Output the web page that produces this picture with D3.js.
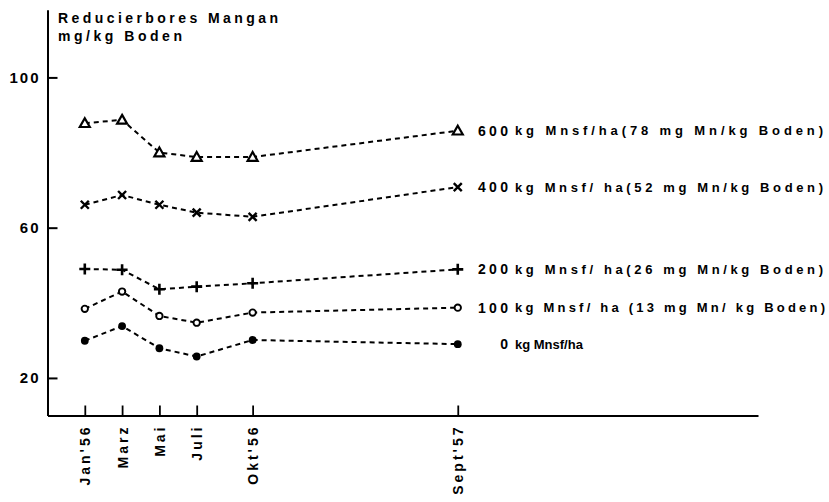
<!DOCTYPE html>
<html>
<head>
<meta charset="utf-8">
<script src="https://cdn.jsdelivr.net/npm/d3@7"></script>
<style>
  html, body { margin: 0; padding: 0; background: #fff; }
  svg { display: block; }
  text { font-family: "Liberation Sans", Arial, sans-serif; font-weight: bold; fill: #000; }
</style>
</head>
<body>
<svg id="chart" width="829" height="502"></svg>
<script>
// ---- data ----
const months = [0, 2, 4, 6, 9, 20];               // months since Jan 1956
const monthLabels = ["Jan'56", "Marz", "Mai", "Juli", "Okt'56", "Sept'57"];
const yTicks = [20, 60, 100];

const s600 = [87.8, 88.7, 80.0, 78.8, 78.8, 85.8];
const s400 = [66.1, 68.7, 66.1, 64.0, 62.9, 70.8];
const s200 = [49.0, 48.8, 43.6, 44.3, 45.2, 48.9];
const s100 = [38.4, 43.0, 36.5, 34.7, 37.4, 38.7];
const s0   = [29.9, 33.8, 27.9, 25.7, 30.1, 29.0];

const seriesNumbers = ["600", "400", "200", "100", "0"];
const seriesTexts = [
  "kg Mnsf/ha(78 mg Mn/kg Boden)",
  "kg Mnsf/ ha(52 mg Mn/kg Boden)",
  "kg Mnsf/ ha(26 mg Mn/kg Boden)",
  "kg Mnsf/ ha (13 mg Mn/ kg Boden)",
  "kg Mnsf/ha"
];
const seriesMarkers = ["triangle", "cross", "plus", "circleOpen", "circleFilled"];
const seriesValues = [s600, s400, s200, s100, s0];

const titleLines = ["Reducierbores Mangan", "mg/kg Boden"];

// ---- layout ----
const svg = d3.select("#chart");
const x = d3.scaleLinear().domain([-2, 36.1]).range([47.5, 758]);
const y = d3.scaleLinear().domain([10, 118]).range([415.5, 9.8]);

// axes
const xAxis = d3.axisBottom(x)
  .tickValues(months)
  .tickFormat((d, i) => monthLabels[i])
  .tickSizeInner(-10).tickSizeOuter(0);
const gx = svg.append("g").attr("transform", `translate(0,${y(10)})`).call(xAxis);
gx.select(".domain").attr("stroke", "#000").attr("stroke-width", 2);
gx.selectAll(".tick line").attr("stroke", "#000").attr("stroke-width", 1.8);
gx.selectAll(".tick text")
  .attr("transform", "rotate(-90)")
  .attr("x", -9).attr("y", 0).attr("dy", "0.36em")
  .attr("text-anchor", "end")
  .style("font-size", "14px")
  .style("letter-spacing", "3px");

const yAxis = d3.axisLeft(y)
  .tickValues(yTicks)
  .tickFormat(d3.format("d"))
  .tickSizeInner(-10).tickSizeOuter(0).tickPadding(7);
const gy = svg.append("g").attr("transform", `translate(${x(-2)},0)`).call(yAxis);
gy.select(".domain").attr("stroke", "#000").attr("stroke-width", 2);
gy.selectAll(".tick line").attr("stroke", "#000").attr("stroke-width", 2);
gy.selectAll(".tick text")
  .style("font-size", "15px")
  .style("letter-spacing", "2px");

// title
svg.append("text").attr("x", 58).attr("y", 23)
  .attr("textLength", 220).attr("lengthAdjust", "spacing")
  .style("font-size", "14px").text(titleLines[0]);
svg.append("text").attr("x", 58).attr("y", 41)
  .attr("textLength", 124).attr("lengthAdjust", "spacing")
  .style("font-size", "14px").text(titleLines[1]);

// lines
const line = d3.line().x((d, i) => x(months[i])).y(d => y(d));
const gLines = svg.append("g");
seriesValues.forEach(vals => {
  gLines.append("path").datum(vals)
    .attr("d", line)
    .attr("fill", "none").attr("stroke", "#000")
    .attr("stroke-width", 2).attr("stroke-dasharray", "5,4");
});

// markers
function drawMarker(g, type, cx, cy) {
  if (type === "triangle") {
    const s = 5;
    g.append("path")
      .attr("d", `M${cx},${cy - s} L${cx + s},${cy + s * 0.75} L${cx - s},${cy + s * 0.75} Z`)
      .attr("fill", "#fff").attr("stroke", "#000").attr("stroke-width", 2.2);
  } else if (type === "cross") {
    const s = 4;
    g.append("path")
      .attr("d", `M${cx - s},${cy - s} L${cx + s},${cy + s} M${cx - s},${cy + s} L${cx + s},${cy - s}`)
      .attr("stroke", "#000").attr("stroke-width", 2.4);
  } else if (type === "plus") {
    const s = 5.5;
    g.append("path")
      .attr("d", `M${cx - s},${cy} L${cx + s},${cy} M${cx},${cy - s} L${cx},${cy + s}`)
      .attr("stroke", "#000").attr("stroke-width", 2.6);
  } else if (type === "circleOpen") {
    g.append("circle").attr("cx", cx).attr("cy", cy).attr("r", 3.2)
      .attr("fill", "#fff").attr("stroke", "#000").attr("stroke-width", 1.9);
  } else {
    g.append("circle").attr("cx", cx).attr("cy", cy).attr("r", 3.9)
      .attr("fill", "#000");
  }
}
const gMarks = svg.append("g");
seriesValues.forEach((vals, si) => {
  vals.forEach((v, i) => drawMarker(gMarks, seriesMarkers[si], x(months[i]), y(v)));
});

// series labels
const gLab = svg.append("g");
const textWidths = [308, 308, 308, 310, null];
seriesValues.forEach((vals, si) => {
  const ly = y(vals[vals.length - 1]);
  const num = gLab.append("text")
    .attr("x", 508).attr("y", ly).attr("dy", "0.36em")
    .attr("text-anchor", "end")
    .style("font-size", "14px")
    .text(seriesNumbers[si]);
  if (seriesNumbers[si].length > 1) num.attr("textLength", 30).attr("lengthAdjust", "spacing");
  const t = gLab.append("text")
    .attr("x", 515).attr("y", ly).attr("dy", "0.36em")
    .style("font-size", "13px")
    .text(seriesTexts[si]);
  if (textWidths[si]) t.attr("textLength", textWidths[si]).attr("lengthAdjust", "spacing");
});
</script>
</body>
</html>
